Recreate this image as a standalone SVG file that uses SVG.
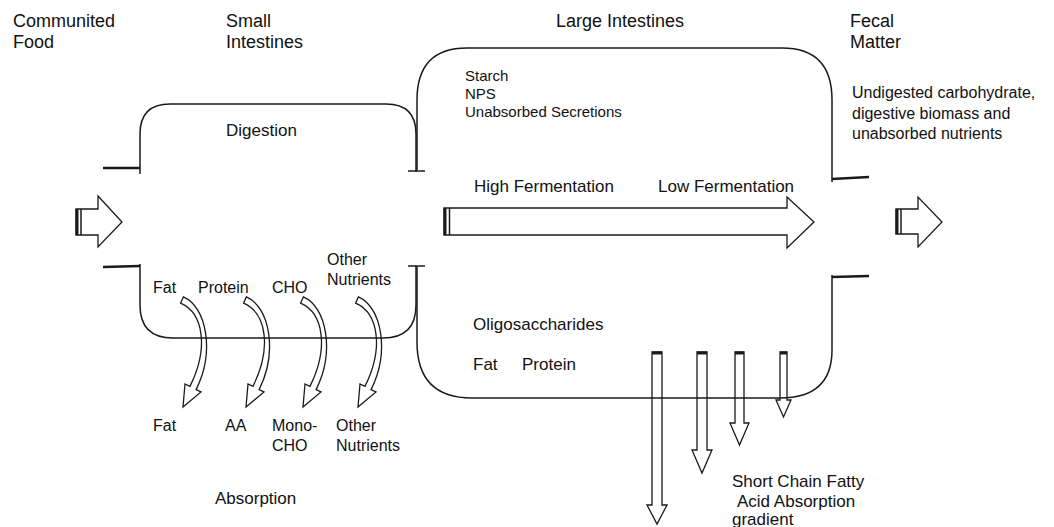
<svg xmlns="http://www.w3.org/2000/svg" width="1054" height="527" viewBox="0 0 1054 527">
<style>
.t{font-family:"Liberation Sans",Arial,sans-serif;font-size:17px;fill:#111}
.h{font-size:18px}
.s{font-size:15px}
.m{font-size:16px}
.wall{fill:none;stroke:#1a1a1a;stroke-width:1.5}
.stub{fill:none;stroke:#1a1a1a;stroke-width:2.4}
.arw{fill:#fff;stroke:#1a1a1a;stroke-width:1.3;stroke-linejoin:miter}
.hol{fill:none;stroke:#1a1a1a;stroke-width:1.3;stroke-linejoin:miter}
.cap{stroke:#1a1a1a;fill:none}
</style>
<rect width="1054" height="527" fill="#fff"/>

<g id="connectors">
<defs>
<path id="curv" d="M183.4 296.8 C206.4 306.8 215.1 351.6 196.1 389.6 L201 392 L183 407 L185 384 L189.9 386.4 C208.9 348.4 203.6 313.2 180.6 303.2 Z"/>
</defs>
<use href="#curv" class="arw"/>
<use href="#curv" class="arw" transform="translate(63 0)"/>
<use href="#curv" class="arw" transform="translate(120 0)"/>
<use href="#curv" class="arw" transform="translate(175 0)"/>

<path class="arw" d="M76 209 L98 209 L98 196 L122 222 L98 247 L98 235 L76 235 Z"/>
<line class="cap" x1="77" y1="209" x2="77" y2="235" stroke-width="3"/>
<line class="cap" x1="81" y1="209" x2="81" y2="235" stroke-width="1.5"/>

<path class="arw" d="M444 208 L787 208 L787 197 L814 222 L787 248 L787 235 L444 235 Z"/>
<line class="cap" x1="445" y1="208" x2="445" y2="235" stroke-width="3"/>
<line class="cap" x1="449.5" y1="208" x2="449.5" y2="235" stroke-width="1.5"/>

<path class="arw" d="M896 209 L918 209 L918 197 L942 222 L918 247 L918 234 L896 234 Z"/>
<line class="cap" x1="897" y1="209" x2="897" y2="234" stroke-width="3"/>
<line class="cap" x1="901" y1="209" x2="901" y2="234" stroke-width="1.5"/>

<path class="hol" d="M652 352 L662 352 L662 505 L667 505 L657 524 L647 505 L652 505 Z"/>
<path class="hol" d="M697 352 L707 352 L707 450 L712 450 L702 473 L692 450 L697 450 Z"/>
<path class="hol" d="M735 352 L744 352 L744 423 L749 423 L739.5 445 L730 423 L735 423 Z"/>
<path class="hol" d="M780 352 L787 352 L787 400 L791 400 L783.5 417 L776 400 L780 400 Z"/>
<g class="cap" stroke-width="3">
<line x1="652" y1="353" x2="662" y2="353"/>
<line x1="697" y1="353" x2="707" y2="353"/>
<line x1="735" y1="353" x2="744" y2="353"/>
<line x1="780" y1="353" x2="787" y2="353"/>
</g>
</g>

<g id="labels">
<text class="t h" x="13" y="27">Communited</text>
<text class="t h" x="13" y="48">Food</text>
<text class="t h" x="226" y="27">Small</text>
<text class="t h" x="226" y="48">Intestines</text>
<text class="t h" x="556" y="27">Large Intestines</text>
<text class="t h" x="850" y="27">Fecal</text>
<text class="t h" x="850" y="48">Matter</text>
</g>

<g id="small-intestine">
<path class="wall" d="M140 174 L140 134 Q140 104 170 104 L386 104 Q416 104 416 134 L416 172"/>
<path class="stub" d="M103 168 L140 168"/>
<path class="wall" d="M408 171 L425 171"/>
<path class="wall" d="M140 264 L140 305 Q140 338 173 338 L383 338 Q416 338 416 305 L416 266"/>
<path class="stub" d="M103 267 L140 266"/>
<path class="wall" d="M408 266 L425 266"/>
<text class="t" x="226" y="136">Digestion</text>
</g>

<g id="large-intestine">
<path class="wall" d="M417 170 L417 100 Q417 48 467 48 L782 48 Q832 48 832 100 L832 182"/>
<path class="stub" d="M832 179 L869 177"/>
<path class="wall" d="M417 267 L417 342 Q417 398 472 398 L780 398 Q832 398 832 350 L832 275"/>
<path class="stub" d="M832 277 L869 276"/>
<text class="t s" x="465" y="81">Starch</text>
<text class="t s" x="465" y="99">NPS</text>
<text class="t s" x="465" y="117">Unabsorbed Secretions</text>
<text class="t" x="474" y="192">High Fermentation</text>
<text class="t" x="658" y="192">Low Fermentation</text>
<text class="t" x="473" y="330">Oligosaccharides</text>
<text class="t" x="473" y="370">Fat</text>
<text class="t" x="522" y="370">Protein</text>
</g>

<g id="fecal">
<text class="t m" x="852" y="98">Undigested carbohydrate,</text>
<text class="t m" x="852" y="119">digestive biomass and</text>
<text class="t m" x="852" y="139">unabsorbed nutrients</text>
</g>

<g id="absorption-labels">
<text class="t m" x="153" y="293">Fat</text>
<text class="t m" x="198" y="293">Protein</text>
<text class="t m" x="272" y="293">CHO</text>
<text class="t m" x="327" y="265">Other</text>
<text class="t m" x="327" y="285">Nutrients</text>
<text class="t m" x="153" y="431">Fat</text>
<text class="t m" x="225" y="431">AA</text>
<text class="t m" x="272" y="431">Mono-</text>
<text class="t m" x="272" y="451">CHO</text>
<text class="t m" x="336" y="431">Other</text>
<text class="t m" x="336" y="451">Nutrients</text>
<text class="t" x="215" y="504">Absorption</text>
</g>

<g id="scfa-label">
<text class="t" x="732" y="487">Short Chain Fatty</text>
<text class="t" x="737" y="507">Acid Absorption</text>
<text class="t" x="732" y="525">gradient</text>
</g>
</svg>
